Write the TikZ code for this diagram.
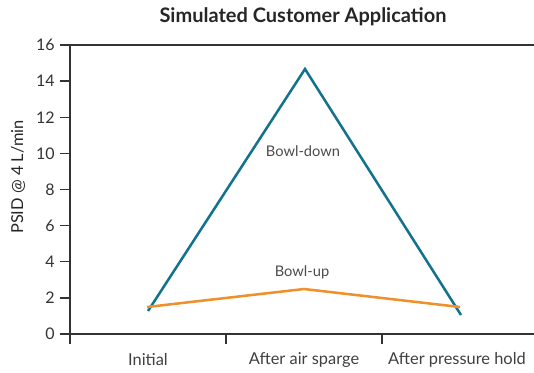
\documentclass[tikz,border=0pt]{standalone}
\usepackage{fontspec}
\setmainfont{Lato}
\begin{document}
\begin{tikzpicture}[x=0.75pt,y=-0.75pt,
  axisline/.style={draw=black!80,line width=1pt},
  ticklbl/.style={font=\fontsize{12}{14}\selectfont,text=black!80,inner sep=0pt},
  catlbl/.style={font=\fontsize{12.3}{14}\selectfont,text=black!75,inner sep=0pt},
  serieslbl/.style={font=\fontsize{11}{13}\selectfont,text=black!70,inner sep=0pt},
  bowldown/.style={draw=blueline,line width=1.9pt,line join=miter},
  bowlup/.style={draw=orangeline,line width=1.9pt,line join=miter}]
\definecolor{blueline}{HTML}{13738F}
\definecolor{orangeline}{HTML}{F0902A}
\useasboundingbox (0,0) rectangle (534,372);
% title
\node[font=\fontsize{15}{17}\selectfont\bfseries,text=black!85,inner sep=0pt] (title) at (303,17) {Simulated Customer Application};
% axes
\coordinate (origin) at (70,334);
\coordinate (ytop) at (70,45);
\coordinate (xend) at (534,334);
\coordinate (topend) at (534,45);
\draw[axisline] (70,344) -- (ytop);
\draw[axisline] (60,334) -- (xend);
\draw[axisline] (60,45) -- (topend);
% y ticks and labels
\foreach \v in {0,2,...,16}{
  \pgfmathsetmacro{\yy}{334-\v*18.0625}
  \draw[axisline] (60,\yy) -- (70,\yy);
  \node[ticklbl,anchor=east] (y\v) at (55,\yy) {\v};
}
% x ticks
\foreach \xx in {226,382}{
  \draw[axisline] (\xx,334) -- (\xx,344);
}
% category labels
\node[catlbl] (c1) at (148,360) {Initial};
\node[catlbl] (c2) at (304,360) {After air sparge};
\node[catlbl] (c3) at (457,360) {After pressure hold};
% y-axis title
\node[font=\fontsize{12.3}{14}\selectfont,text=black!85,rotate=90,inner sep=0pt] (ylabel) at (18,177) {PSID @ 4 L/min};
% data
\coordinate (b1) at (148,311);
\coordinate (b2) at (305,69);
\coordinate (b3) at (461,315);
\coordinate (o1) at (147,307);
\coordinate (o2) at (304,289);
\coordinate (o3) at (460,307);
\draw[bowldown] (b1) -- (b2) -- (b3);
\draw[bowlup] (o1) -- (o2) -- (o3);
\node[serieslbl] (lbldown) at (303,151) {Bowl-down};
\node[serieslbl] (lblup) at (302,272) {Bowl-up};
\end{tikzpicture}
\end{document}
